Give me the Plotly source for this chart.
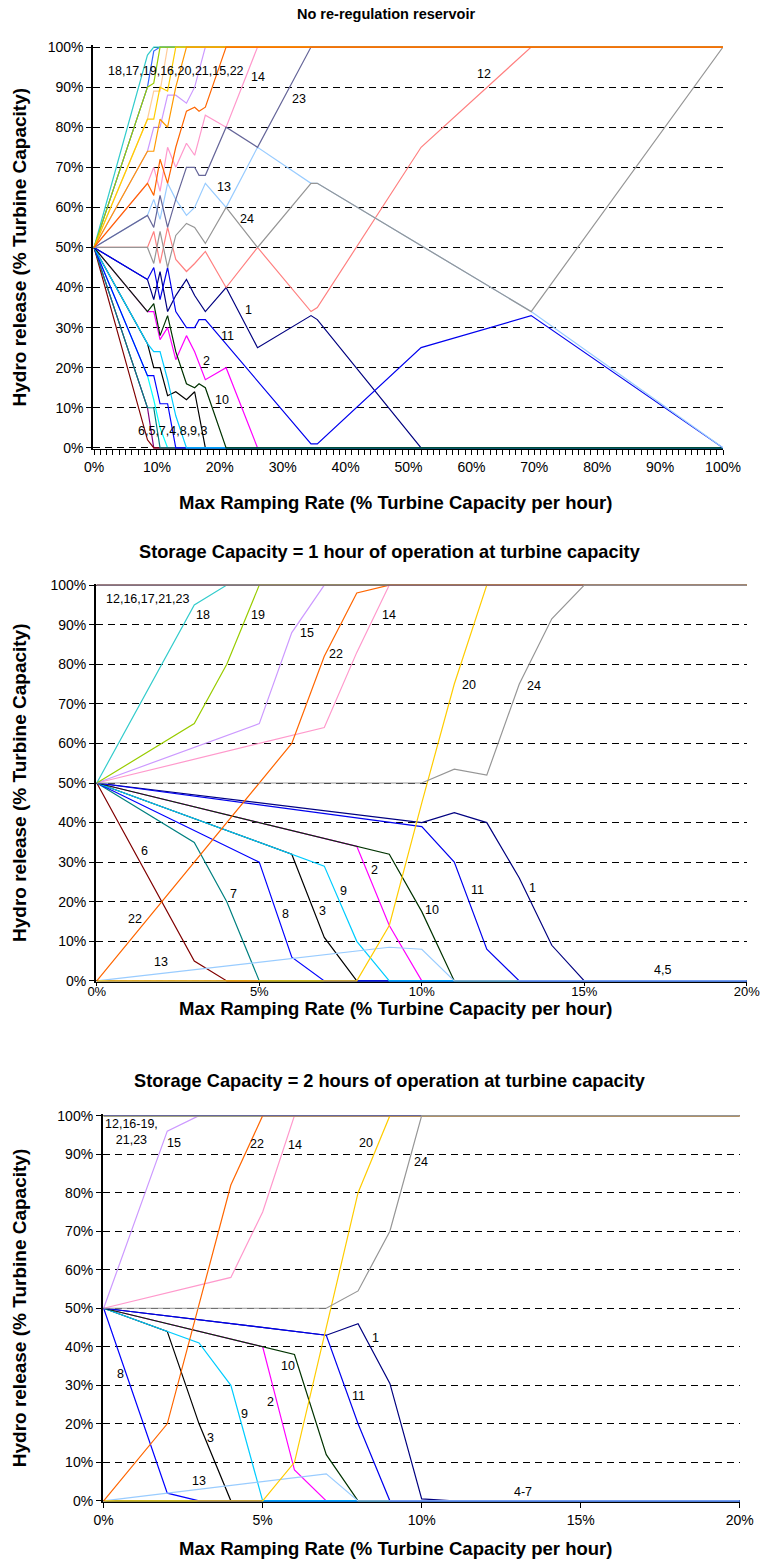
import plotly.graph_objects as go

W, H = 771, 1564
# drawing area of the page used for placing the panels (pixels)
OX, OY, CW, CH = 8, 8, 744, 1548
FONT = "Liberation Sans, Arial, sans-serif"


def fx(px):
    return (px - OX) / CW


def fy(py):
    return 1 - (py - OY) / CH


# Line colour for each hour of the day (1..24)
hour_colors = ["#000080", "#FF00FF", "#000000", "#00FFFF", "#800080", "#800000",
               "#008080", "#0000FF", "#00CCFF", "#003300", "#0000EE", "#FF8080",
               "#99CCFF", "#FF99CC", "#CC99FF", "#FFCC99", "#3366FF", "#33CCCC",
               "#99CC00", "#FFCC00", "#FF9900", "#FF6600", "#666699", "#969696"]

# ---------------- No re-regulation reservoir (ramp rate %, release %) ----------------
nr_x_01 = [0, 8.5, 9.5, 10.5, 11.7, 13, 14.7, 16, 17.7, 21, 26, 34.5, 35.5, 52, 100]
nr_y_01 = [50, 42, 37, 44, 34, 38, 42, 38, 34, 40, 25, 33, 32, 0, 0]
nr_x_02 = [0, 8.5, 9.5, 10.5, 11.7, 13, 14.7, 16, 17.7, 21, 26, 100]
nr_y_02 = [50, 34, 34, 27, 30, 22, 28, 24, 17, 20, 0, 0]
nr_x_03 = [0, 8.5, 9.5, 10.5, 11.7, 13, 14.7, 16, 17.7, 100]
nr_y_03 = [50, 26, 20, 20, 13, 14, 12, 14, 0, 0]
nr_x_04 = [0, 8.5, 9.5, 10.5, 11.7, 100]
nr_y_04 = [50, 18, 12, 5, 0, 0]
nr_x_05 = [0, 8.5, 9.5, 100]
nr_y_05 = [50, 10, 0, 0]
nr_x_06 = [0, 8.5, 9.5, 100]
nr_y_06 = [50, 2, 0, 0]
nr_x_07 = [0, 8.5, 9.5, 10.5, 100]
nr_y_07 = [50, 10, 10, 0, 0]
nr_x_08 = [0, 8.5, 9.5, 10.5, 11.7, 13, 100]
nr_y_08 = [50, 18, 18, 11, 11, 0, 0]
nr_x_09 = [0, 8.5, 9.5, 10.5, 11.7, 13, 14.7, 100]
nr_y_09 = [50, 26, 24, 24, 17, 8, 0, 0]
nr_x_10 = [0, 8.5, 9.5, 10.5, 11.7, 13, 14.7, 16, 16.7, 17.7, 21, 100]
nr_y_10 = [50, 34, 36, 28, 33, 24, 16, 15, 16, 15, 0, 0]
nr_x_11 = [0, 8.5, 9.5, 10.5, 11.7, 13, 14.7, 16, 16.7, 17.7, 34.5, 35.5, 52, 69.5, 100]
nr_y_11 = [50, 42, 45, 37, 45, 34, 30, 30, 32, 32, 1, 1, 25, 33, 0]
nr_x_12 = [0, 8.5, 9.5, 10.5, 11.7, 13, 14.7, 16, 17.7, 21, 26, 34.5, 35.5, 52, 69.5, 100]
nr_y_12 = [50, 50, 54, 46, 55, 47, 44, 46, 49, 40, 50, 34, 35, 75, 100, 100]
nr_x_13 = [0, 8.5, 9.5, 10.5, 11.7, 13, 14.7, 16, 17.7, 21, 26, 34.5, 35.5, 69.5, 100]
nr_y_13 = [50, 58, 62, 57, 66, 62, 58, 60, 66, 60, 75, 66, 66, 34, 0]
nr_x_14 = [0, 8.5, 9.5, 10.5, 11.7, 13, 14.7, 16, 17.7, 21, 26, 100]
nr_y_14 = [50, 66, 70, 64, 75, 70, 76, 73, 83, 80, 100, 100]
nr_x_15 = [0, 8.5, 9.5, 10.5, 11.7, 13, 14.7, 16, 17.7, 100]
nr_y_15 = [50, 74, 80, 80, 88, 88, 86, 90, 100, 100]
nr_x_16 = [0, 8.5, 9.5, 10.5, 11.7, 100]
nr_y_16 = [50, 82, 89, 89, 100, 100]
nr_x_17 = [0, 8.5, 9.5, 10.5, 100]
nr_y_17 = [50, 90, 99, 100, 100]
nr_x_18 = [0, 8.5, 9.5, 100]
nr_y_18 = [50, 98, 100, 100]
nr_x_19 = [0, 8.5, 9.5, 10.5, 100]
nr_y_19 = [50, 90, 91, 100, 100]
nr_x_20 = [0, 8.5, 9.5, 10.5, 11.7, 13, 100]
nr_y_20 = [50, 82, 82, 90, 89, 100, 100]
nr_x_21 = [0, 8.5, 9.5, 10.5, 11.7, 13, 14.7, 100]
nr_y_21 = [50, 74, 74, 82, 80, 90, 100, 100]
nr_x_22 = [0, 8.5, 9.5, 10.5, 11.7, 13, 14.7, 16, 16.7, 17.7, 21, 100]
nr_y_22 = [50, 66, 63, 72, 66, 75, 84, 85, 84, 85, 100, 100]
nr_x_23 = [0, 8.5, 9.5, 10.5, 11.7, 13, 14.7, 16, 16.7, 17.7, 21, 26, 34.5, 100]
nr_y_23 = [50, 58, 55, 63, 55, 62, 70, 70, 68, 68, 80, 75, 100, 100]
nr_x_24 = [0, 8.5, 9.5, 10.5, 11.7, 13, 14.7, 16, 17.7, 21, 26, 34.5, 35.5, 69.5, 100]
nr_y_24 = [50, 50, 46, 54, 45, 53, 56, 55, 51, 60, 50, 66, 66, 34, 100]

# ---------------- Storage = 1 hour at turbine capacity ----------------
s1_x_01 = [0, 10, 11, 12, 13, 14, 15, 20]
s1_y_01 = [50, 40, 42.5, 40, 26, 9, 0, 0]
s1_x_02 = [0, 8, 9, 10, 20]
s1_y_02 = [50, 34, 14, 0, 0]
s1_x_03 = [0, 6, 7, 8, 20]
s1_y_03 = [50, 32, 11, 0, 0]
s1_x_04 = [0, 20]
s1_y_04 = [0, 0]
s1_x_05 = [0, 20]
s1_y_05 = [0, 0]
s1_x_06 = [0, 3, 4, 20]
s1_y_06 = [50, 5, 0, 0]
s1_x_07 = [0, 3, 4, 5, 20]
s1_y_07 = [50, 35, 20, 0, 0]
s1_x_08 = [0, 5, 6, 7, 20]
s1_y_08 = [50, 30, 6, 0, 0]
s1_x_09 = [0, 6, 7, 8, 9, 20]
s1_y_09 = [50, 32, 29, 10, 0, 0]
s1_x_10 = [0, 8, 9, 10, 11, 20]
s1_y_10 = [50, 34, 32, 17.5, 0, 0]
s1_x_11 = [0, 10, 11, 12, 13, 20]
s1_y_11 = [50, 39, 30, 8, 0, 0]
s1_x_12 = [0, 20]
s1_y_12 = [100, 100]
s1_x_13 = [0, 9, 10, 11, 20]
s1_y_13 = [0, 8.5, 8, 0, 0]
s1_x_14 = [0, 7, 8, 9, 20]
s1_y_14 = [50, 64, 83, 100, 100]
s1_x_15 = [0, 5, 6, 7, 20]
s1_y_15 = [50, 65, 88, 100, 100]
s1_x_16 = [0, 20]
s1_y_16 = [100, 100]
s1_x_17 = [0, 20]
s1_y_17 = [100, 100]
s1_x_18 = [0, 3, 4, 20]
s1_y_18 = [50, 95, 100, 100]
s1_x_19 = [0, 3, 4, 5, 20]
s1_y_19 = [50, 65, 80, 100, 100]
s1_x_20 = [0, 8, 9, 10, 11, 12, 20]
s1_y_20 = [0, 0, 14, 45, 75, 100, 100]
s1_x_21 = [0, 20]
s1_y_21 = [100, 100]
s1_x_22 = [0, 6, 7, 8, 9, 20]
s1_y_22 = [0, 60, 82, 98, 100, 100]
s1_x_23 = [0, 20]
s1_y_23 = [100, 100]
s1_x_24 = [0, 10, 11, 12, 13, 14, 15, 20]
s1_y_24 = [50, 50, 53.5, 52, 75, 91.5, 100, 100]

# ---------------- Storage = 2 hours at turbine capacity ----------------
s2_x_01 = [0, 7, 8, 9, 10, 11, 20]
s2_y_01 = [50, 43, 46, 30.5, 0.5, 0, 0]
s2_x_02 = [0, 5, 6, 7, 20]
s2_y_02 = [50, 40, 8, 0, 0]
s2_x_03 = [0, 2, 3, 4, 20]
s2_y_03 = [50, 44, 20, 0, 0]
s2_x_04 = [0, 20]
s2_y_04 = [0, 0]
s2_x_05 = [0, 20]
s2_y_05 = [0, 0]
s2_x_06 = [0, 20]
s2_y_06 = [0, 0]
s2_x_07 = [0, 20]
s2_y_07 = [0, 0]
s2_x_08 = [0, 2, 3, 20]
s2_y_08 = [50, 2, 0, 0]
s2_x_09 = [0, 2, 3, 4, 5, 20]
s2_y_09 = [50, 44, 41, 30, 0, 0]
s2_x_10 = [0, 5, 6, 7, 8, 20]
s2_y_10 = [50, 40, 38, 12, 0, 0]
s2_x_11 = [0, 7, 8, 9, 20]
s2_y_11 = [50, 43, 20, 0, 0]
s2_x_12 = [0, 20]
s2_y_12 = [100, 100]
s2_x_13 = [0, 7, 8, 20]
s2_y_13 = [0, 7, 0, 0]
s2_x_14 = [0, 4, 5, 6, 20]
s2_y_14 = [50, 58, 75, 100, 100]
s2_x_15 = [0, 2, 3, 20]
s2_y_15 = [50, 96, 100, 100]
s2_x_16 = [0, 20]
s2_y_16 = [100, 100]
s2_x_17 = [0, 20]
s2_y_17 = [100, 100]
s2_x_18 = [0, 20]
s2_y_18 = [100, 100]
s2_x_19 = [0, 20]
s2_y_19 = [100, 100]
s2_x_20 = [0, 5, 6, 8, 9, 20]
s2_y_20 = [0, 0, 10, 80, 100, 100]
s2_x_21 = [0, 20]
s2_y_21 = [100, 100]
s2_x_22 = [0, 2, 4, 5, 20]
s2_y_22 = [0, 20, 82, 100, 100]
s2_x_23 = [0, 20]
s2_y_23 = [100, 100]
s2_x_24 = [0, 7, 8, 9, 10, 20]
s2_y_24 = [50, 50, 54.5, 70, 100, 100]

# ---------------- Series labels: (text, x, y) ----------------
nr_labels = [("18,17,19,16,20,21,15,22", 13, 94), ("14", 26, 92.5), ("23", 32.6, 87),
             ("13", 20.7, 65), ("24", 24.4, 57), ("12", 62, 93.4), ("1", 24.6, 34.3),
             ("11", 21.3, 27.8), ("2", 17.9, 21.6), ("10", 20.3, 12),
             ("6,5,7,4,8,9,3", 12.5, 4.1)]
s1_labels = [("12,16,17,21,23", 1.57, 96.5), ("18", 3.26, 92.4), ("19", 4.97, 92.4),
             ("15", 6.46, 88), ("22", 7.36, 82.7), ("14", 9.0, 92.4), ("20", 11.44, 74.7),
             ("24", 13.44, 74.5), ("6", 1.48, 32.7), ("22", 1.18, 15.6), ("7", 4.2, 21.9),
             ("8", 5.8, 17), ("3", 6.96, 17.7), ("9", 7.6, 22.6), ("2", 8.54, 28.1),
             ("10", 10.3, 17.9), ("11", 11.7, 23), ("1", 13.4, 23.4), ("13", 1.99, 4.7),
             ("4,5", 17.4, 2.7)]
s2_labels = [("12,16-19,<br>21,23", 0.86, 95.8), ("15", 2.2, 92.9), ("22", 4.82, 92.7),
             ("14", 6.03, 92.3), ("20", 8.25, 92.8), ("24", 9.98, 88), ("1", 8.54, 42.2),
             ("10", 5.79, 34.9), ("8", 0.52, 32.9), ("11", 8.0, 27.2), ("2", 5.24, 25.7),
             ("9", 4.42, 22.5), ("3", 3.35, 16.4), ("13", 3.0, 5.1), ("4-7", 13.2, 2.3)]

titles = ["No re-regulation reservoir",
          "Storage Capacity = 1 hour of operation at turbine capacity",
          "Storage Capacity = 2 hours of operation at turbine capacity"]
x_title = "Max Ramping Rate (% Turbine Capacity per hour)"
y_title = "Hydro release (% Turbine Capacity)"


def series(prefix):
    g = globals()
    return [(h, g[f"{prefix}_x_{h:02d}"], g[f"{prefix}_y_{h:02d}"]) for h in range(1, 25)]


# plot-area pixel boxes: (left, right, top, bottom), x ranges, x tick style
panels = [
    dict(key="nr", box=(92, 722, 46.4, 449.6), xr=[-0.16, 100], dtick=10, minor=True,
         labels=nr_labels, order=list(range(1, 21)) + [23, 24, 21, 22],
         title=(385, 15, 14.5), xt_y=503, xtick=(5, 14, 0)),
    dict(key="s1", box=(94.8, 745.8, 583.4, 981.6), xr=[-0.03, 20], dtick=5, minor=False,
         labels=s1_labels, order=list(range(1, 25)), title=(389, 552, 18.2), xt_y=1008,
         xtick=(3, 13, -6)),
    dict(key="s2", box=(101.7, 738.7, 1113.0, 1500.5), xr=[-0.03, 20], dtick=5, minor=False,
         labels=s2_labels, order=list(range(1, 25)), title=(389, 1080, 18.2), xt_y=1547,
         xtick=(5, 14, 0)),
]

fig = go.Figure()
annotations = []
layout = {}

for i, p in enumerate(panels):
    n = "" if i == 0 else str(i + 1)
    xa, ya = f"x{n}", f"y{n}"
    L, R, T, B = p["box"]
    data = {h: (xs, ys) for h, xs, ys in series(p["key"])}
    for h in p["order"]:
        xs, ys = data[h]
        fig.add_trace(go.Scatter(x=xs, y=ys, mode="lines", xaxis=xa, yaxis=ya,
                                 line=dict(color=hour_colors[h - 1], width=1.2),
                                 showlegend=False, hoverinfo="skip"))
    tlen, tsize, tstand = p["xtick"]
    xaxis = dict(domain=[fx(L), fx(R)], range=p["xr"], anchor=ya,
                 tickmode="linear", tick0=0, dtick=p["dtick"], ticksuffix="%",
                 ticks="outside", ticklen=tlen, tickcolor="black", tickwidth=1,
                 ticklabelstandoff=tstand,
                 showline=True, linecolor="black", linewidth=1, showgrid=False,
                 zeroline=False, layer="below traces",
                 tickfont=dict(family=FONT, size=tsize, color="black"))
    if p["minor"]:
        xaxis["minor"] = dict(dtick=1, tick0=0, ticks="outside", ticklen=5,
                              tickcolor="black", tickwidth=1, showgrid=False)
    yaxis = dict(domain=[fy(B), fy(T)], range=[-0.4, 100.4], anchor=xa,
                 tickmode="linear", tick0=0, dtick=10, ticksuffix="%",
                 ticks="outside", ticklen=5, tickcolor="black", tickwidth=1,
                 showline=True, linecolor="black", linewidth=1.5,
                 showgrid=True, gridcolor="black", gridwidth=1, griddash="7px,5px",
                 zeroline=False, layer="below traces",
                 tickfont=dict(family=FONT, size=14, color="black"))
    layout[f"xaxis{n}"] = xaxis
    layout[f"yaxis{n}"] = yaxis

    for text, lx, ly in p["labels"]:
        annotations.append(dict(text=text, x=lx, y=ly, xref=xa, yref=ya, showarrow=False,
                                font=dict(family=FONT, size=12.5, color="black"),
                                xanchor="center", yanchor="middle", align="center"))
    tx, ty, ts = p["title"]
    annotations.append(dict(text=f"<b>{titles[i]}</b>", x=fx(tx), y=fy(ty),
                            xref="paper", yref="paper", showarrow=False,
                            xanchor="center", yanchor="middle",
                            font=dict(family=FONT, size=ts, color="black")))
    annotations.append(dict(text=f"<b>{x_title}</b>", x=fx(394), y=fy(p["xt_y"]),
                            xref="paper", yref="paper", showarrow=False,
                            xanchor="center", yanchor="middle",
                            font=dict(family=FONT, size=18.5, color="black")))
    annotations.append(dict(text=f"<b>{y_title}</b>", x=fx(18), y=fy((T + B) / 2),
                            xref="paper", yref="paper", showarrow=False, textangle=-90,
                            xanchor="center", yanchor="middle",
                            font=dict(family=FONT, size=19, color="black")))

fig.update_layout(width=W, height=H, margin=dict(l=0, r=0, t=0, b=0),
                  paper_bgcolor="white", plot_bgcolor="white",
                  annotations=annotations, showlegend=False, **layout)

fig.write_html("out.html")
